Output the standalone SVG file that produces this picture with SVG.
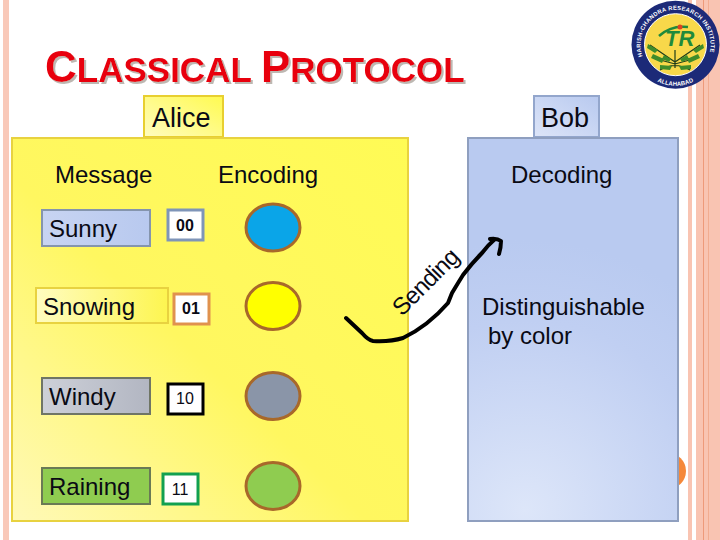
<svg xmlns="http://www.w3.org/2000/svg" width="720" height="540" viewBox="0 0 720 540">
<style>
text{font-family:"Liberation Sans",Arial,sans-serif;fill:#0a0a14}
.l{font-size:24px}
.c{font-size:16px;text-anchor:middle}
.b{fill:#fff;stroke-width:3}
.e{stroke:#a8682a;stroke-width:3}
.t{font-weight:bold;fill:#e8000f;filter:url(#sh)}
.w{font-weight:bold;fill:#fff}
</style>
<defs>
<filter id="sh" x="-5%" y="-20%" width="110%" height="140%"><feDropShadow dx="2" dy="2" stdDeviation="0.4" flood-color="#bdb8b2"/></filter>
<linearGradient id="y" x1="0" y1="1" x2="1" y2="0"><stop offset="0" stop-color="#fff9b8"/><stop offset=".45" stop-color="#fff760"/><stop offset="1" stop-color="#fffb55"/></linearGradient>
<radialGradient id="bl" gradientUnits="userSpaceOnUse" cx="525" cy="510" r="270"><stop offset="0" stop-color="#dde6f9"/><stop offset=".7" stop-color="#c0cff2"/><stop offset="1" stop-color="#b9caf0"/></radialGradient>
<linearGradient id="ya" x1="0" y1="1" x2="1" y2="0"><stop offset="0" stop-color="#fffcc0"/><stop offset="1" stop-color="#fffa50"/></linearGradient>
<linearGradient id="ba" x1="0" y1="1" x2="1" y2="0"><stop offset="0" stop-color="#dde5f8"/><stop offset="1" stop-color="#b8c9ef"/></linearGradient>
<linearGradient id="su" x1="0" y1="0" x2="1" y2="0"><stop offset="0" stop-color="#c8d4f2"/><stop offset="1" stop-color="#b8c9ef"/></linearGradient>
<linearGradient id="sn" x1="0" y1="0" x2="1" y2="0"><stop offset="0" stop-color="#fffcc0"/><stop offset="1" stop-color="#fdf550"/></linearGradient>
<linearGradient id="wi" x1="0" y1="0" x2="1" y2="0"><stop offset="0" stop-color="#cdd0d8"/><stop offset="1" stop-color="#b2b6c2"/></linearGradient>
<path id="arcTop" d="M642.600 56.500A35 35 0 1 1 708 58"/>
<path id="arcBot" d="M650 77A41 41 0 0 0 701 77"/>
</defs>
<rect width="720" height="540" fill="#fff"/>
<g id="borders">
<rect x="3" width="6" height="540" fill="#f9c9b9"/>
<rect x="688" width="4" height="540" fill="#f9c4b2"/>
<rect x="696" width="24" height="540" fill="#f9c4b2"/>
<rect x="703" width="1" height="540" fill="#ee9a7a"/>
<rect x="708" width="1" height="540" fill="#f2ac90"/>
</g>
<circle id="dot" cx="668" cy="471" r="18" fill="#f5883a"/>
<g id="title">
<text class="t" x="45" y="82" font-size="44">C<tspan font-size="35">LASSICAL </tspan>P<tspan font-size="35">ROTOCOL</tspan></text>
</g>
<g id="logo">
<circle cx="675.500" cy="44.700" r="44" fill="#1c2a78"/>
<circle cx="675.500" cy="44.700" r="31" fill="#f8d84a" stroke="#fff" stroke-width="1"/>
<text class="w" font-size="5.800" letter-spacing=".3"><textPath href="#arcTop">HARISH-CHANDRA RESEARCH INSTITUTE</textPath></text>
<text class="w" font-size="6" text-anchor="middle"><textPath href="#arcBot" startOffset="50%">ALLAHABAD</textPath></text>
<path d="M659 36q12-11 29-9" stroke="#1f8a3c" stroke-width="2.500" fill="none"/>
<circle cx="680" cy="27" r="2.500" fill="#e04020"/>
<text x="665" y="46" font-weight="bold" font-style="italic" style="fill:#1f8a3c;font-size:22px">TR</text>
<path d="M675 50v18M650 45l25 17 25-17M653 58l22 6 22-6M660 70q15-9 30 0" stroke="#1f3c1a" stroke-width="1.200" fill="none"/>
<path d="M648 44l10 6-3 3-8-5zM703 44l-10 6 3 3 8-5zM653 54l11 5-2 4-11-5zM698 54l-11 5 2 4 11-5zM660 65l12 1-2 4-10-1zM691 65l-12 1 2 4 10-1zM664 55l7 4-2 3-7-3zM687 55l-7 4 2 3 7-3z" fill="#3f8c2a"/>
</g>
<g id="alice-panel">
<rect x="144" y="96" width="79" height="41" fill="url(#ya)" stroke="#e8cf30" stroke-width="2"/>
<text class="l" x="152" y="127" style="font-size:27px">Alice</text>
<rect x="12" y="138" width="396" height="383" fill="url(#y)" stroke="#e8d240" stroke-width="2"/>
</g>
<g id="bob-panel">
<rect x="534" y="96" width="65" height="41" fill="url(#ba)" stroke="#93a6cc" stroke-width="2"/>
<text class="l" x="541" y="127" style="font-size:27px">Bob</text>
<rect x="468" y="138" width="210" height="383" fill="url(#bl)" stroke="#8f9fbf" stroke-width="2"/>
</g>
<text class="l" x="55" y="183">Message</text>
<text class="l" x="218" y="183">Encoding</text>
<text class="l" x="511" y="183">Decoding</text>
<g id="sunny"><rect x="42" y="210" width="108" height="36" fill="url(#su)" stroke="#8595ad" stroke-width="2"/><text class="l" x="49" y="237">Sunny</text></g>
<g id="snowing"><rect x="36" y="288" width="132" height="35" fill="url(#sn)" stroke="#e8d240" stroke-width="2"/><text class="l" x="43" y="315">Snowing</text></g>
<g id="windy"><rect x="42" y="378" width="108" height="36" fill="url(#wi)" stroke="#6f7565" stroke-width="2"/><text class="l" x="49" y="405">Windy</text></g>
<g id="raining"><rect x="42" y="468" width="108" height="36" fill="#8fcc50" stroke="#6a7a55" stroke-width="2"/><text class="l" x="49" y="495">Raining</text></g>
<g id="c00"><rect x="168" y="210" width="35" height="30" class="b" stroke="#7f95b8"/><text class="c" x="185" y="231" font-weight="bold">00</text></g>
<g id="c01"><rect x="174" y="294" width="35" height="30" class="b" stroke="#e0924e"/><text class="c" x="191" y="314" font-weight="bold">01</text></g>
<g id="c10"><rect x="168" y="384" width="35" height="30" class="b" stroke="#000"/><text class="c" x="185" y="404">10</text></g>
<g id="c11"><rect x="163" y="474" width="35" height="30" class="b" stroke="#12a050"/><text class="c" x="180" y="495">11</text></g>
<g id="e00"><ellipse cx="273" cy="227.500" rx="27" ry="23.500" fill="#0aa5e8" class="e"/></g>
<g id="e01"><ellipse cx="273" cy="306" rx="27" ry="23.500" fill="#ffff00" class="e"/></g>
<g id="e10"><ellipse cx="273" cy="396" rx="27" ry="23.500" fill="#8a95a8" class="e"/></g>
<g id="e11"><ellipse cx="273" cy="486" rx="27" ry="23.500" fill="#8fcc50" class="e"/></g>
<g id="connectors">
<path d="M346 318L362 333Q368 340 373 341Q390 342 403 338Q428 326 448 303L452 293Q458 283 463 275Q472 263 482 253Q488 245 494 240M490 239Q497 238 501 241Q501 247 499 254" fill="none" stroke="#000" stroke-width="4" stroke-linecap="round" stroke-linejoin="round"/>
</g>
<text id="sending" class="l" transform="translate(402 317) rotate(-45)" letter-spacing="-.8">Sending</text>
<text class="l" x="482" y="315">Distinguishable</text>
<text class="l" x="488" y="344">by color</text>
</svg>
